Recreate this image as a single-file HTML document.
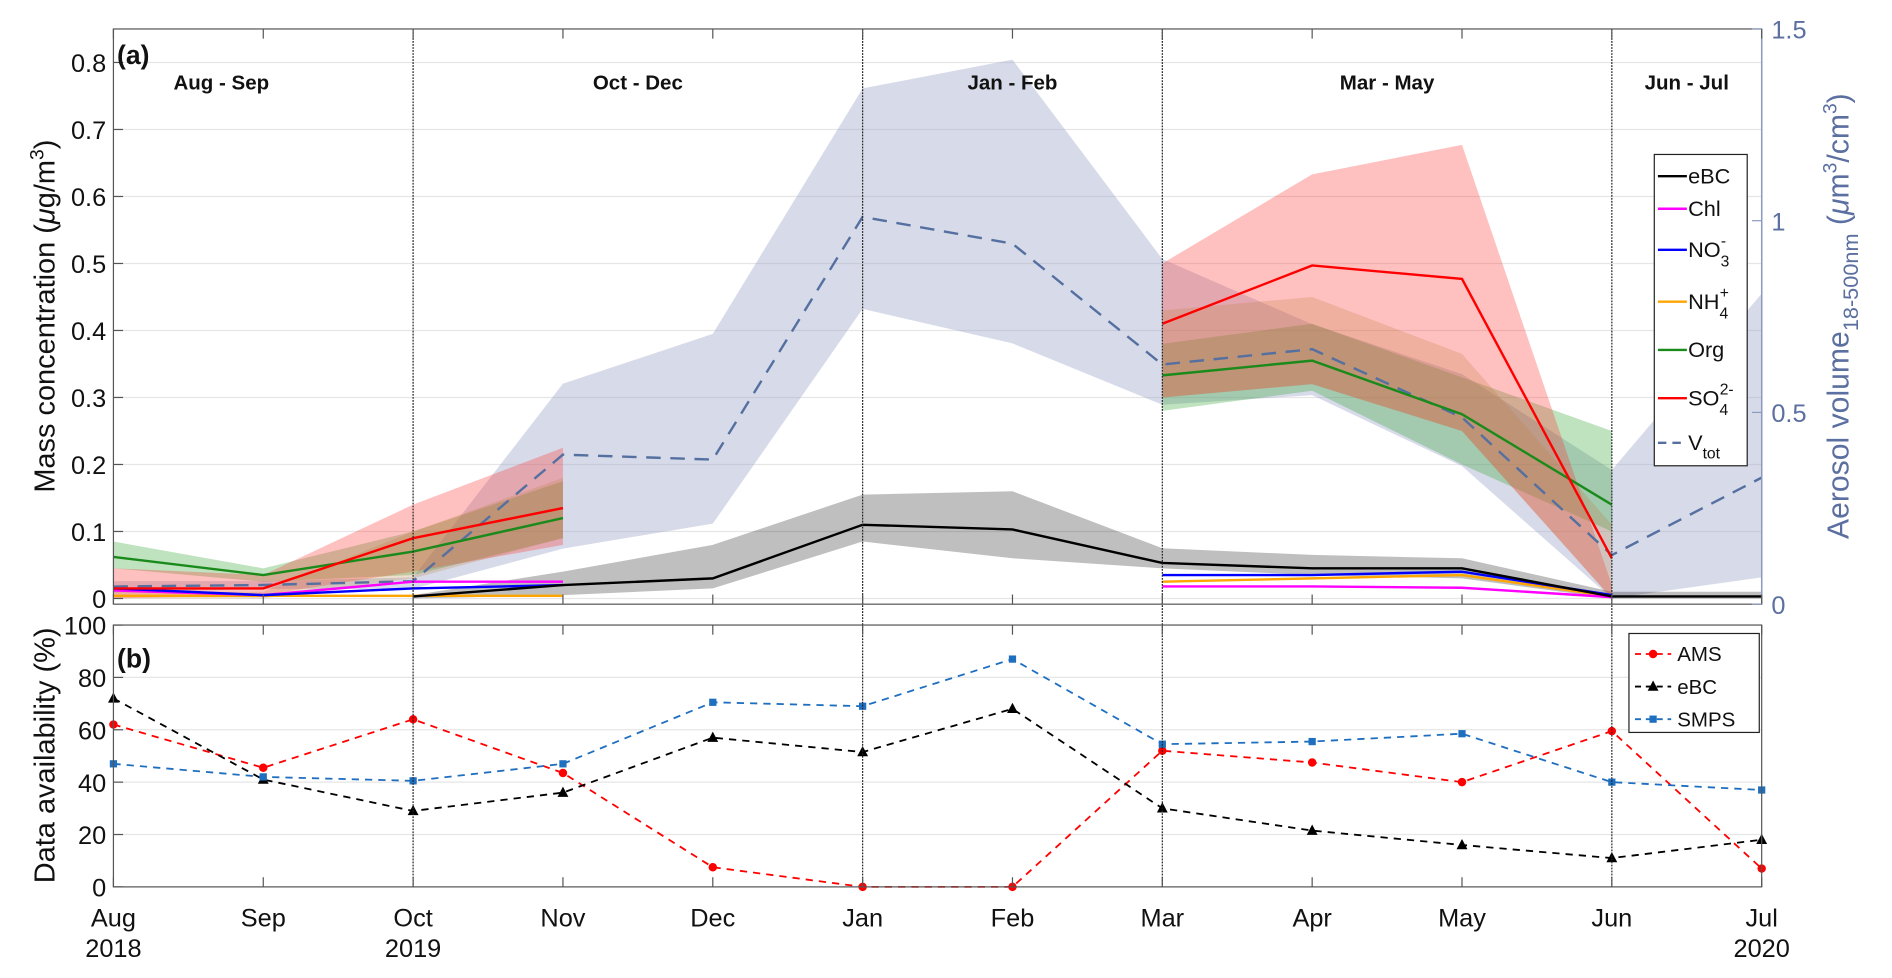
<!DOCTYPE html>
<html><head><meta charset="utf-8"><style>
html,body{margin:0;padding:0;background:#fff;}
svg{display:block;font-family:"Liberation Sans",Arial,sans-serif;}
</style></head><body>
<svg id="chart" width="1892" height="978" viewBox="0 0 1568 810.5" xmlns="http://www.w3.org/2000/svg"></svg>
<script>
// ---- data ----
const months = ["Aug","Sep","Oct","Nov","Dec","Jan","Feb","Mar","Apr","May","Jun","Jul"];
const years = {0:"2018",2:"2019",11:"2020"};
const seasons = ["Aug - Sep","Oct - Dec","Jan - Feb","Mar - May","Jun - Jul"];
const seasonPos = [0.72,3.5,6,8.5,10.5];
const dividers = [2,5,7,10];
const leftTicks = [0,0.1,0.2,0.3,0.4,0.5,0.6,0.7,0.8];
const rightTicks = [0,0.5,1,1.5];
const bottomTicks = [0,20,40,60,80,100];
const N = null;
const eBC     = [N,N,0.003,0.02,0.03,0.11,0.103,0.053,0.045,0.045,0.003,0.003];
const eBC_lo  = [N,N,0.0,0.005,0.015,0.085,0.06,0.045,0.035,0.03,0.0,0.0];
const eBC_hi  = [N,N,0.005,0.04,0.08,0.155,0.16,0.075,0.065,0.06,0.01,0.01];
const chl     = [0.012,0.005,0.025,0.025,N,N,N,0.018,0.018,0.016,0.002,N];
const no3     = [0.015,0.005,0.015,0.02,N,N,N,0.035,0.035,0.04,0.005,N];
const nh4     = [0.004,0.004,0.004,0.004,N,N,N,0.025,0.03,0.035,0.003,N];
const nh4_lo  = [0.0,0.0,0.03,0.09,N,N,N,0.30,0.32,0.25,0.0,N];
const nh4_hi  = [0.01,0.01,0.10,0.18,N,N,N,0.43,0.45,0.365,0.11,N];
const org     = [0.062,0.035,0.07,0.12,N,N,N,0.333,0.355,0.275,0.14,N];
const org_lo  = [0.045,0.025,0.035,0.09,N,N,N,0.28,0.31,0.2,0.1,N];
const org_hi  = [0.085,0.045,0.10,0.175,N,N,N,0.38,0.41,0.33,0.25,N];
const so4     = [0.015,0.015,0.09,0.135,N,N,N,0.41,0.497,0.477,0.06,N];
const so4_lo  = [0.0,0.005,0.04,0.08,N,N,N,0.3,0.32,0.25,0.0,N];
const so4_hi  = [0.045,0.035,0.14,0.225,N,N,N,0.5,0.633,0.677,0.02,N];
const vtot    = [0.046,0.05,0.06,0.39,0.377,1.01,0.94,0.625,0.665,0.487,0.128,0.33];
const vtot_lo = [0.03,0.04,0.04,0.145,0.21,0.77,0.68,0.52,0.545,0.36,0.015,0.07];
const vtot_hi = [0.06,0.06,0.07,0.575,0.705,1.345,1.42,0.9,0.73,0.6,0.35,0.81];
const ams  = [62,45.5,64,43.5,7.5,0,0,52,47.5,40,59.5,7];
const ebcA = [72,41,29,36,57,51.5,68,30,21.5,16,11,18];
const smps = [47,42,40.5,47,70.5,69,87,54.5,55.5,58.5,40,37];

// ---- geometry ----
const L=94,R=1460,T1=24,B1=500.7,T2=518,B2=735;
const X = i => L + i*(R-L)/11;
const YL = v => B1 - (v+0.0085)*(B1-T1)/0.8585;
const YR = v => B1 - v*(B1-T1)/1.5;
const YB = v => B2 - v*(B2-T2)/100;
const svg=document.getElementById('chart');
const NS="http://www.w3.org/2000/svg";
function el(tag,attrs,parent){const e=document.createElementNS(NS,tag);for(const k in attrs)e.setAttribute(k,attrs[k]);(parent||svg).appendChild(e);return e;}
function segs(arr){const out=[];let cur=[];arr.forEach((v,i)=>{if(v===null){if(cur.length)out.push(cur);cur=[];}else cur.push(i);});if(cur.length)out.push(cur);return out;}
function band(lo,hi,Y,fill,op,name){segs(lo).forEach(s=>{let d="M"+s.map(i=>X(i)+","+Y(hi[i])).join("L")+"L"+s.slice().reverse().map(i=>X(i)+","+Y(lo[i])).join("L")+"Z";const p=el('path',{d:d,fill:fill,'fill-opacity':op,stroke:'none'});

});}
function line(arr,Y,color,w,dash,name){segs(arr).forEach(s=>{const p=el('polyline',{points:s.map(i=>X(i)+","+Y(arr[i])).join(" "),fill:'none',stroke:color,'stroke-width':w});if(dash)p.setAttribute('stroke-dasharray',dash);

});}
function text(x,y,s,attrs,name){const t=el('text',Object.assign({x:x,y:y},attrs));t.textContent=s;

return t;}

// ---- grids ----
leftTicks.forEach(v=>{el('line',{x1:L,x2:R,y1:YL(v),y2:YL(v),stroke:'#e6e6e6','stroke-width':1});});
bottomTicks.forEach(v=>{if(v>0&&v<100)el('line',{x1:L,x2:R,y1:YB(v),y2:YB(v),stroke:'#e6e6e6','stroke-width':1});});

// ---- bands ----
band(vtot_lo,vtot_hi,YR,'#9aa6c8',0.4,'vtot-band');
band(eBC_lo,eBC_hi,YL,'#000000',0.25,'ebc-band');
band(org_lo,org_hi,YL,'#2ca02c',0.3,'org-band');
band(so4_lo,so4_hi,YL,'#ff3030',0.3,'so4-band');
band(nh4_lo,nh4_hi,YL,'#c08040',0.25,'nh4-band');

// ---- lines ----
line(vtot,YR,'#5570a0',2,'12,8','vtot-line');
line(nh4,YL,'#ffa500',2,null,'nh4-line');
line(chl,YL,'#ff00ff',2,null,'chl-line');
line(no3,YL,'#0000ff',2,null,'no3-line');
line(eBC,YL,'#000000',2,null,'ebc-line');
line(org,YL,'#1a8a1a',2,null,'org-line');
line(so4,YL,'#ff0000',2,null,'so4-line');

// bottom series
line(ams,YB,'#ff0000',1.5,'6,5','ams-line');
line(ebcA,YB,'#000000',1.5,'6,5','ebc-availability-line');
line(smps,YB,'#1f6fc0',1.5,'6,5','smps-line');
ams.forEach((v,i)=>{const c=el('circle',{cx:X(i),cy:YB(v),r:3.5,fill:'#ff0000'});

});
ebcA.forEach((v,i)=>{const x=X(i),y=YB(v);const p=el('polygon',{points:`${x},${y-5} ${x-4.5},${y+3.5} ${x+4.5},${y+3.5}`,fill:'#000'});

});
smps.forEach((v,i)=>{const r=el('rect',{x:X(i)-3,y:YB(v)-3,width:6,height:6,fill:'#1f6fc0'});

});

// ---- dividers ----
dividers.forEach(i=>{const d=el('line',{x1:X(i),x2:X(i),y1:T1,y2:B2,stroke:'#222','stroke-width':1,'stroke-dasharray':'1.5,1'});

});

// ---- axes frames ----
el('rect',{x:L,y:T1,width:R-L,height:B1-T1,fill:'none',stroke:'#555','stroke-width':1});
el('rect',{x:L,y:T2,width:R-L,height:B2-T2,fill:'none',stroke:'#555','stroke-width':1});
el('line',{x1:R,x2:R,y1:T1,y2:B1,stroke:'#8a9ac0','stroke-width':1.2});
months.forEach((m,i)=>{const x=X(i);
 el('line',{x1:x,x2:x,y1:B1,y2:B1-8,stroke:'#555'});el('line',{x1:x,x2:x,y1:T1,y2:T1+8,stroke:'#555'});
 el('line',{x1:x,x2:x,y1:B2,y2:B2-8,stroke:'#555'});el('line',{x1:x,x2:x,y1:T2,y2:T2+8,stroke:'#555'});
 text(x,768,m,{'font-size':21,'text-anchor':'middle',fill:'#111'},'x-tick-label');
 if(years[i])text(x,793,years[i],{'font-size':21,'text-anchor':'middle',fill:'#111'},'x-year-label');
});
leftTicks.forEach(v=>{el('line',{x1:L,x2:L+8,y1:YL(v),y2:YL(v),stroke:'#555'});
 text(L-6,YL(v)+8,v===0?"0":String(v),{'font-size':21,'text-anchor':'end',fill:'#111'},'left-tick-label');});
rightTicks.forEach(v=>{el('line',{x1:R-8,x2:R,y1:YR(v),y2:YR(v),stroke:'#8a9ac0'});
 text(R+8,YR(v)+8,String(v),{'font-size':21,'text-anchor':'start',fill:'#5b6fa0'},'right-tick-label');});
bottomTicks.forEach(v=>{el('line',{x1:L,x2:L+8,y1:YB(v),y2:YB(v),stroke:'#555'});
 text(L-6,YB(v)+8,String(v),{'font-size':21,'text-anchor':'end',fill:'#111'},'bottom-tick-label');});

// seasons
seasons.forEach((s,k)=>text(X(seasonPos[k]),74,s,{'font-size':17,'font-weight':'bold','text-anchor':'middle',fill:'#111'},'season-label'));
text(97,53,"(a)",{'font-size':22,'font-weight':'bold',fill:'#111'},'panel-a-label');
text(97,553,"(b)",{'font-size':22,'font-weight':'bold',fill:'#111'},'panel-b-label');
</script>
<!-- static labels -->
<svg style="position:absolute;left:0;top:0" width="1892" height="978" viewBox="0 0 1568 810.5" xmlns="http://www.w3.org/2000/svg" font-family="Liberation Sans, Arial, sans-serif">
 <text transform="translate(45,262) rotate(-90)" font-size="24" text-anchor="middle" fill="#111">Mass concentration (<tspan font-style="italic">μ</tspan>g/m<tspan dy="-9" font-size="16">3</tspan><tspan dy="9">)</tspan></text>
 <text transform="translate(45,626) rotate(-90)" font-size="24" text-anchor="middle" fill="#111">Data availability (%)</text>
 <text transform="translate(1532,262) rotate(-90)" font-size="25" text-anchor="middle" fill="#5b6fa0">Aerosol volume<tspan dy="8" font-size="18">18-500nm</tspan><tspan dy="-8"> (</tspan><tspan font-style="italic">μ</tspan>m<tspan dy="-10" font-size="16">3</tspan><tspan dy="10">/cm</tspan><tspan dy="-10" font-size="16">3</tspan><tspan dy="10">)</tspan></text>
 <g>
  <rect x="1371" y="128" width="77" height="258" fill="#fff" stroke="#222" stroke-width="1"/>
  <g font-size="18" fill="#111">
   <line x1="1374" x2="1398" y1="146" y2="146" stroke="#000" stroke-width="2"/><text x="1399" y="152">eBC</text>
   <line x1="1374" x2="1398" y1="173" y2="173" stroke="#ff00ff" stroke-width="2"/><text x="1399" y="179">Chl</text>
   <line x1="1374" x2="1398" y1="207" y2="207" stroke="#0000ff" stroke-width="2"/><text x="1399" y="213">NO<tspan dy="8" font-size="13">3</tspan><tspan dy="-17" font-size="13" dx="-7">-</tspan></text>
   <line x1="1374" x2="1398" y1="250" y2="250" stroke="#ffa500" stroke-width="2"/><text x="1399" y="256">NH<tspan dy="8" font-size="13">4</tspan><tspan dy="-17" font-size="13" dx="-7">+</tspan></text>
   <line x1="1374" x2="1398" y1="290" y2="290" stroke="#1a8a1a" stroke-width="2"/><text x="1399" y="296">Org</text>
   <line x1="1374" x2="1398" y1="330" y2="330" stroke="#ff0000" stroke-width="2"/><text x="1399" y="336">SO<tspan dy="8" font-size="13">4</tspan><tspan dy="-17" font-size="13" dx="-7">2-</tspan></text>
   <line x1="1374" x2="1398" y1="367" y2="367" stroke="#5570a0" stroke-width="2" stroke-dasharray="7,5"/><text x="1399" y="373">V<tspan dy="7" font-size="13">tot</tspan></text>
  </g>
 </g>
 <g>
  <rect x="1350" y="525" width="108" height="82" fill="#fff" stroke="#222" stroke-width="1"/>
  <g font-size="17" fill="#111">
   <line x1="1355" x2="1385" y1="542" y2="542" stroke="#f00" stroke-width="1.5" stroke-dasharray="5,4"/><circle cx="1370" cy="542" r="3.5" fill="#f00"/><text x="1390" y="548">AMS</text>
   <line x1="1355" x2="1385" y1="569" y2="569" stroke="#000" stroke-width="1.5" stroke-dasharray="5,4"/><polygon points="1370,564 1365.5,572.5 1374.5,572.5" fill="#000"/><text x="1390" y="575">eBC</text>
   <line x1="1355" x2="1385" y1="596" y2="596" stroke="#1f6fc0" stroke-width="1.5" stroke-dasharray="5,4"/><rect x="1367" y="593" width="6" height="6" fill="#1f6fc0"/><text x="1390" y="602">SMPS</text>
  </g>
 </g>
</svg>
</body></html>
